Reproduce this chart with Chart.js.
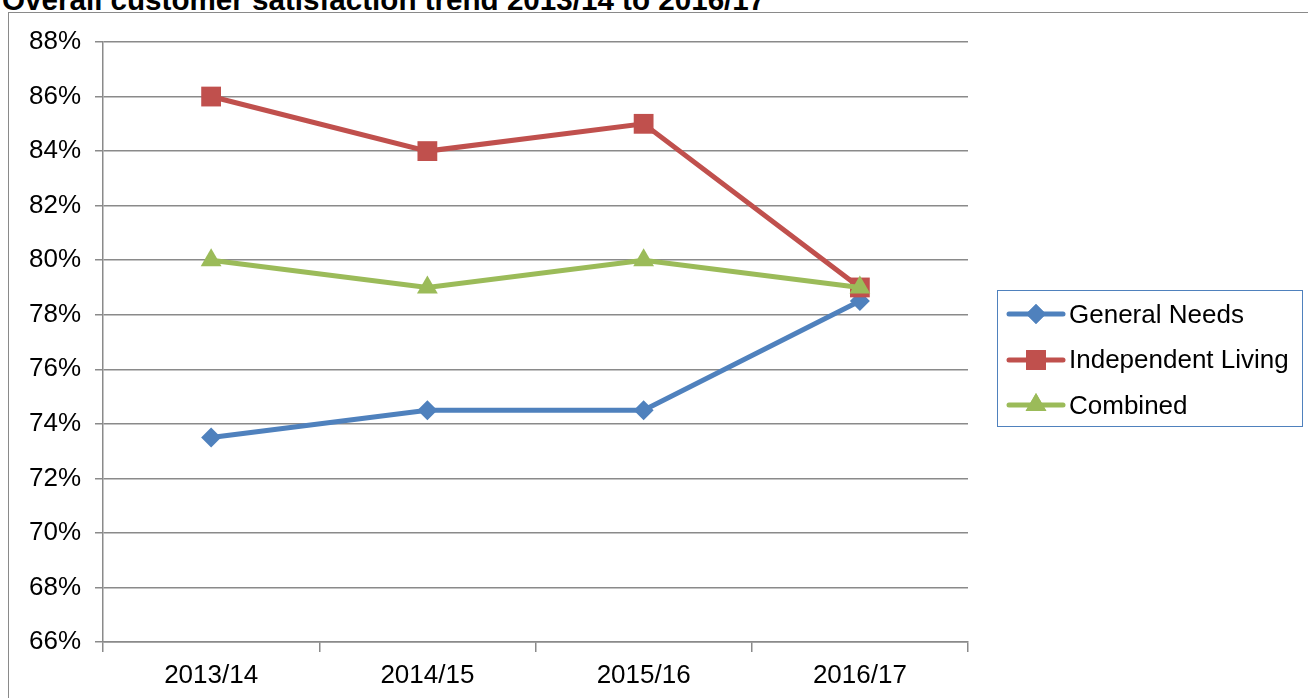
<!DOCTYPE html>
<html>
<head>
<meta charset="utf-8">
<script src="https://cdn.jsdelivr.net/npm/chart.js@4"></script>
<style>
  /* page is a fixed 1308x698 picture */
  html, body { margin: 0; padding: 0; background: #fff; overflow: hidden; }
  body { width: 1308px; height: 698px; position: relative; font-family: "Liberation Sans", Arial, sans-serif; }
  #title { position: absolute; left: 2px; top: -15px; font-size: 29.6px; line-height: 29px; font-weight: bold; color: #000; white-space: nowrap; }
  #frame { position: absolute; left: 8px; top: 12px; width: 1400px; height: 800px; border: 1.5px solid #8a8a8a; }
  #chart { position: absolute; left: 0; top: 0; }
  #legend { position: absolute; left: 997px; top: 290px; width: 306px; height: 137px; border: 1px solid #4f81bd; box-sizing: border-box; background: #fff; }
  .item { position: absolute; left: 8px; height: 30px; display: flex; align-items: center; font-size: 26px; color: #000; white-space: nowrap; }
  .item canvas { margin-right: 3px; }
</style>
</head>
<body>
<div id="title">Overall customer satisfaction trend 2013/14 to 2016/17</div>
<div id="frame"></div>
<canvas id="chart" width="1308" height="698"></canvas>
<div id="legend"></div>

<script>
// ---------------------------------------------------------------------------
// Data (values in percent)
// ---------------------------------------------------------------------------
const years = ["2013/14", "2014/15", "2015/16", "2016/17"];
const generalNeeds = [73.5, 74.5, 74.5, 78.5];
const independentLiving = [86, 84, 85, 79];
const combined = [80, 79, 80, 79];

const seriesNames = ["General Needs", "Independent Living", "Combined"];
const seriesColors = ["#4f81bd", "#c0504d", "#9bbb59"];
const seriesMarkers = ["rectRot", "rect", "triangle"];
const markerSizes = [10, 14, 12];

// y axis range: 66% .. 88% every 2%
const yMin = 66, yMax = 88, yStep = 2;

const FONT = "'Liberation Sans', Arial, sans-serif";
const GRID = "#8a8a8a";

// Build the datasets from the arrays above.
const seriesValues = [generalNeeds, independentLiving, combined];
const datasets = seriesValues.map((values, i) => ({
  label: seriesNames[i],
  data: values,
  borderColor: seriesColors[i],
  backgroundColor: seriesColors[i],
  borderWidth: 5,
  pointStyle: seriesMarkers[i],
  pointRadius: markerSizes[i],
  pointBorderWidth: 0,
  pointBackgroundColor: seriesColors[i],
  tension: 0,
  order: seriesValues.length - i, // later series drawn on top, like Excel
}));

const chart = new Chart(document.getElementById("chart"), {
  type: "line",
  data: { labels: years, datasets: datasets },
  options: {
    responsive: false,
    animation: false,
    events: [],
    layout: { padding: { left: 0, top: 42, right: 340, bottom: 0 } },
    plugins: { legend: { display: false }, tooltip: { enabled: false } },
    scales: {
      x: {
        offset: true,
        afterFit: (scale) => { scale.height = 56; },
        grid: { offset: true, drawOnChartArea: false, drawTicks: true, tickLength: 10, color: GRID, lineWidth: 1.5 },
        border: { color: GRID, width: 1.5 },
        ticks: { color: "#000", font: { family: FONT, size: 26 }, padding: 8, maxRotation: 0 },
      },
      y: {
        min: yMin,
        max: yMax,
        afterFit: (scale) => { scale.width = 103; },
        grid: { color: GRID, lineWidth: 1.5, tickLength: 8 },
        border: { color: GRID, width: 1.5 },
        ticks: {
          stepSize: yStep,
          color: "#000",
          font: { family: FONT, size: 26 },
          padding: 14,
          callback: (v) => v + "%",
        },
      },
    },
  },
});

// ---------------------------------------------------------------------------
// Legend box on the right (HTML text, marker samples drawn per dataset)
// ---------------------------------------------------------------------------
const legend = document.getElementById("legend");
datasets.forEach((ds, i) => {
  const item = document.createElement("div");
  item.className = "item";
  item.style.top = (8 + i * 45.5) + "px";

  const sample = document.createElement("canvas");
  sample.width = 60;
  sample.height = 30;
  const ctx = sample.getContext("2d");
  ctx.strokeStyle = ds.borderColor;
  ctx.lineWidth = 5;
  ctx.lineCap = "round";
  ctx.beginPath();
  ctx.moveTo(3, 15);
  ctx.lineTo(57, 15);
  ctx.stroke();
  ctx.fillStyle = ds.backgroundColor;
  Chart.helpers.drawPoint(ctx, { pointStyle: ds.pointStyle, radius: ds.pointRadius, borderWidth: 0, rotation: 0 }, 30, 15);
  ctx.fill();

  const label = document.createElement("span");
  label.textContent = ds.label;

  item.appendChild(sample);
  item.appendChild(label);
  legend.appendChild(item);
});
</script>
</body>
</html>
